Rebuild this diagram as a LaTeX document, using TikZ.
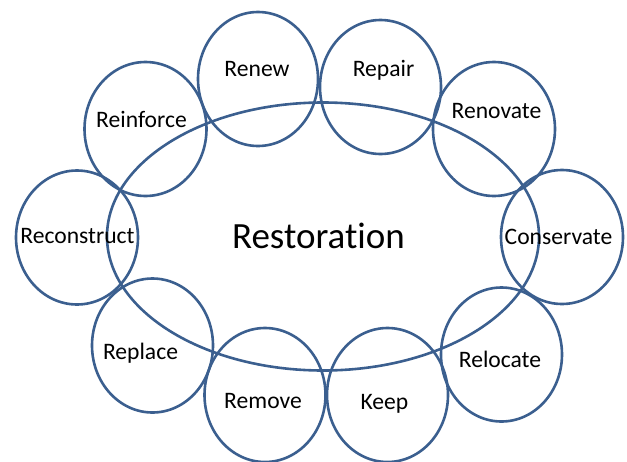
\documentclass[tikz,border=0pt]{standalone}
\usepackage{fontspec}
\setmainfont{Carlito}[Ligatures=NoCommon]
\definecolor{ringblue}{HTML}{3B5F8F}
\begin{document}
\begin{tikzpicture}[x=1pt,y=-1pt,
  ring/.style={draw=ringblue,line width=2.6pt},
  lbl/.style={anchor=base,inner sep=0pt,font=\fontsize{23.6}{26}\selectfont,text=black},
  main/.style={anchor=base,inner sep=0pt,font=\fontsize{37}{40}\selectfont,text=black}]
\useasboundingbox (0,0) rectangle (627,461);
% big ellipse
\draw[ring] (323,236.5) ellipse [x radius=216, y radius=134];
% small rings
\draw[ring] (145.5,129) ellipse [x radius=61, y radius=67];
\draw[ring] (258,79) ellipse [x radius=60, y radius=67];
\draw[ring] (380.5,87) ellipse [x radius=60.5, y radius=67];
\draw[ring] (494,129) ellipse [x radius=61, y radius=67];
\draw[ring] (562,237) ellipse [x radius=61, y radius=67];
\draw[ring] (501.5,354.5) ellipse [x radius=60.5, y radius=67];
\draw[ring] (387.5,395) ellipse [x radius=60.5, y radius=67];
\draw[ring] (265,395) ellipse [x radius=60.5, y radius=67];
\draw[ring] (152.5,345.5) ellipse [x radius=60.5, y radius=67];
\draw[ring] (77,237.5) ellipse [x radius=61, y radius=67];
% labels
\node[main] (restoration) at (318.5,248) {Restoration};
\node[lbl] (reinforce) at (141.5,127) {Reinforce};
\node[lbl] (renew) at (257,76.5) {Renew};
\node[lbl] (repair) at (383.5,76.5) {Repair};
\node[lbl] (renovate) at (496.5,118) {Renovate};
\node[lbl] (conservate) at (558.5,244) {Conservate};
\node[lbl] (relocate) at (500,367) {Relocate};
\node[lbl] (keep) at (384.5,409) {Keep};
\node[lbl] (remove) at (263,408) {Remove};
\node[lbl] (replace) at (140.5,359) {Replace};
\node[lbl] (reconstruct) at (77.5,243.5) {Reconstruct};
\end{tikzpicture}
\end{document}
